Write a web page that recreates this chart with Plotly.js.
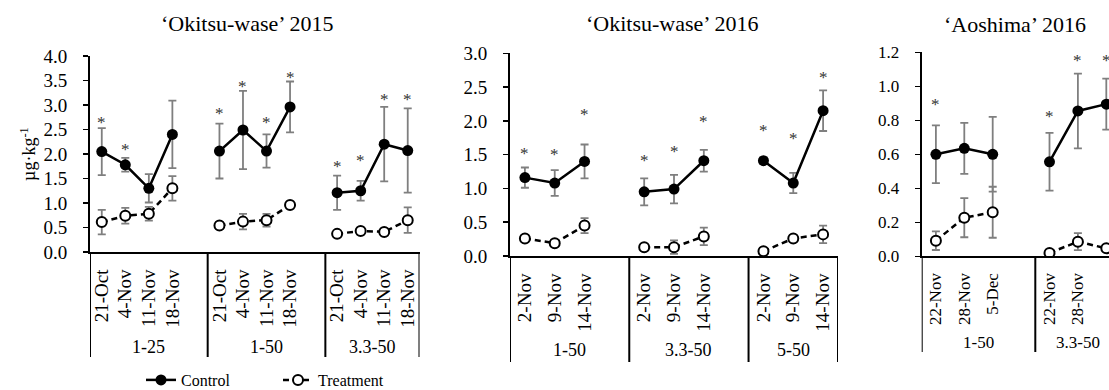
<!DOCTYPE html>
<html><head><meta charset="utf-8">
<script src="https://cdn.plot.ly/plotly-3.0.1.min.js"></script>
<style>html,body{margin:0;padding:0;overflow:hidden;background:#fff;width:1109px;height:390px}#chart{width:1109px;height:390px}</style>
</head><body><div id="chart"></div><script>
// ---------- DATA ----------
// Panel 1: 'Okitsu-wase' 2015
const p1Groups = ['1-25', '1-50', '3.3-50'];
const p1Dates = ['21-Oct', '4-Nov', '11-Nov', '18-Nov'];
const p1Control = [[2.05, 1.78, 1.30, 2.40], [2.06, 2.49, 2.06, 2.96], [1.21, 1.25, 2.20, 2.07]];
const p1ControlErr = [[0.48, 0.14, 0.29, 0.69], [0.56, 0.80, 0.34, 0.52], [0.35, 0.20, 0.76, 0.86]];
const p1Treat = [[0.61, 0.74, 0.78, 1.30], [0.54, 0.62, 0.65, 0.96], [0.37, 0.43, 0.41, 0.65]];
const p1TreatErr = [[0.25, 0.16, 0.14, 0.25], [0.03, 0.16, 0.13, 0.07], [0.03, 0.03, 0.03, 0.26]];
const p1Star = [[2.71, 2.15, null, null], [2.88, 3.44, 2.71, 3.63], [1.81, 1.93, 3.18, 3.18]];

// Panel 2: 'Okitsu-wase' 2016
const p2Groups = ['1-50', '3.3-50', '5-50'];
const p2Dates = ['2-Nov', '9-Nov', '14-Nov'];
const p2Control = [[1.16, 1.08, 1.40], [0.95, 0.99, 1.41], [1.41, 1.08, 2.15]];
const p2ControlErr = [[0.15, 0.19, 0.25], [0.20, 0.21, 0.16], [0.05, 0.15, 0.30]];
const p2Treat = [[0.26, 0.19, 0.45], [0.13, 0.13, 0.29], [0.07, 0.26, 0.32]];
const p2TreatErr = [[0.03, 0.03, 0.11], [0.02, 0.10, 0.13], [0.02, 0.03, 0.13]];
const p2Star = [[1.56, 1.54, 2.14], [1.46, 1.59, 2.03], [1.90, 1.79, 2.68]];

// Panel 3: 'Aoshima' 2016
const p3Groups = ['1-50', '3.3-50'];
const p3Dates = ['22-Nov', '28-Nov', '5-Dec'];
const p3Control = [[0.60, 0.635, 0.60], [0.556, 0.855, 0.895]];
const p3ControlErr = [[0.17, 0.15, 0.22], [0.17, 0.22, 0.15]];
const p3Treat = [[0.092, 0.227, 0.259], [0.02, 0.086, 0.047]];
const p3TreatErr = [[0.055, 0.115, 0.15], [0.005, 0.05, 0.01]];
const p3Star = [[0.91, null, null], [0.84, 1.17, 1.17]];

const seriesNames = ['Control', 'Treatment'];
const yTitle = 'µg·kg<sup>-1</sup>';

// ---------- LAYOUT ----------
const FONT = '"Liberation Serif", "Times New Roman", serif';
const W = 1109, H = 390;
const fx = p => p / W;
const fy = p => 1 - p / H;

const panels = [
  {title: '‘Okitsu-wase’ 2015', groups: p1Groups, dates: p1Dates, control: p1Control, controlErr: p1ControlErr,
   treat: p1Treat, treatErr: p1TreatErr, star: p1Star,
   box: {l: 90, r: 419.5, t: 56, b: 252}, ymax: 4, dtick: 0.5, divBottom: 357, groupY: 347, titleX: 247, titleY: 23, tickSize: 19, groupSize: 18},
  {title: '‘Okitsu-wase’ 2016', groups: p2Groups, dates: p2Dates, control: p2Control, controlErr: p2ControlErr,
   treat: p2Treat, treatErr: p2TreatErr, star: p2Star,
   box: {l: 510, r: 838, t: 53.3, b: 256}, ymax: 3, dtick: 0.5, divBottom: 362, groupY: 350, titleX: 672, titleY: 23, tickSize: 19, groupSize: 18},
  {title: '‘Aoshima’ 2016', groups: p3Groups, dates: p3Dates, control: p3Control, controlErr: p3ControlErr,
   treat: p3Treat, treatErr: p3TreatErr, star: p3Star,
   box: {l: 921.7, r: 1120.5, t: 52.3, b: 256.3}, ymax: 1.2, dtick: 0.2, divBottom: 352, groupY: 342, titleX: 1015, titleY: 25, tickSize: 17, groupSize: 17}
];

const traces = [];
const layout = {
  width: W, height: H,
  margin: {l: 0, r: 0, t: 0, b: 0, autoexpand: false},
  paper_bgcolor: '#fff', plot_bgcolor: '#fff',
  font: {family: FONT, color: '#000'},
  showlegend: true,
  legend: {orientation: 'h', x: fx(141), y: fy(380), xanchor: 'left', yanchor: 'middle',
           font: {family: FONT, size: 16, color: '#000'}, entrywidth: 92, entrywidthmode: 'pixels',
           bgcolor: 'rgba(0,0,0,0)'},
  shapes: [], annotations: []
};

panels.forEach((p, i) => {
  const sfx = i === 0 ? '' : String(i + 1);
  const xa = 'x' + sfx, ya = 'y' + sfx;
  const xs = [], cy = [], ce = [], ty = [], te = [], tickvals = [], ticktext = [];
  const dividers = [-0.5];
  const stars = [];
  let slot = 0;
  p.groups.forEach((g, gi) => {
    p.dates.forEach((d, di) => {
      xs.push(slot); cy.push(p.control[gi][di]); ce.push(p.controlErr[gi][di]);
      ty.push(p.treat[gi][di]); te.push(p.treatErr[gi][di]);
      tickvals.push(slot); ticktext.push(d);
      if (p.star[gi][di] != null) stars.push([slot, p.star[gi][di]]);
      slot++;
    });
    if (gi < p.groups.length - 1) {
      xs.push(slot); cy.push(null); ce.push(null); ty.push(null); te.push(null);
      slot++;
    }
    dividers.push(slot - 0.5);
  });

  // the right-most panel runs past the picture's edge: keep its scale, clip the view
  const visR = Math.min(p.box.r, W);
  const rangeR = -0.5 + slot * (visR - p.box.l) / (p.box.r - p.box.l);

  traces.push({
    x: xs, y: cy, xaxis: xa, yaxis: ya, type: 'scatter', mode: 'lines+markers',
    name: seriesNames[0], legendgroup: 'c', showlegend: i === 0,
    line: {color: '#000', width: 2.5}, marker: {color: '#000', size: 11},
    error_y: {type: 'data', array: ce, visible: true, color: '#7f7f7f', thickness: 1.8, width: 4},
    hoverinfo: 'skip'
  });
  traces.push({
    x: xs, y: ty, xaxis: xa, yaxis: ya, type: 'scatter', mode: 'lines+markers',
    name: seriesNames[1], legendgroup: 't', showlegend: i === 0,
    line: {color: '#000', width: 2.5, dash: '6px,4px'},
    marker: {color: '#fff', size: 10, line: {color: '#000', width: 2}},
    error_y: {type: 'data', array: te, visible: true, color: '#7f7f7f', thickness: 1.8, width: 4},
    hoverinfo: 'skip'
  });

  layout['xaxis' + sfx] = {
    domain: [fx(p.box.l), fx(visR)], range: [-0.5, rangeR], anchor: ya,
    tickmode: 'array', tickvals: tickvals, ticktext: ticktext, tickangle: -90, ticks: '',
    ticklabelstandoff: 8, automargin: false,
    showline: true, linecolor: '#000', linewidth: 2, showgrid: false, zeroline: false,
    tickfont: {family: FONT, size: p.tickSize, color: '#000'}, fixedrange: true
  };
  layout['yaxis' + sfx] = {
    domain: [fy(p.box.b), fy(p.box.t)], range: [0, p.ymax], anchor: xa,
    tick0: 0, dtick: p.dtick, tickformat: '.1f', ticks: 'outside', ticklen: 5, tickwidth: 1.5, tickcolor: '#000',
    ticklabelstandoff: 12, automargin: false,
    showline: true, linecolor: '#000', linewidth: 2, showgrid: false, zeroline: false,
    tickfont: {family: FONT, size: p.tickSize, color: '#000'}, fixedrange: true
  };
  if (i === 0) {
    layout.yaxis.title = {text: yTitle, font: {family: FONT, size: 18, color: '#000'}, standoff: 3};
  }

  dividers.forEach(d => {
    if (d > rangeR) return;
    layout.shapes.push({
      type: 'line', xref: xa, yref: 'paper', x0: d, x1: d, y0: fy(p.box.b), y1: fy(p.divBottom),
      line: {color: '#000', width: 2}
    });
  });
  for (let k = 0; k < dividers.length - 1; k++) {
    layout.annotations.push({
      xref: xa, yref: 'paper', x: (dividers[k] + dividers[k + 1]) / 2, y: fy(p.groupY),
      text: p.groups[k], showarrow: false, yanchor: 'middle',
      font: {family: FONT, size: p.groupSize, color: '#000'}
    });
  }
  stars.forEach(s => layout.annotations.push({
    xref: xa, yref: ya, x: s[0], y: s[1], text: '*', showarrow: false, yanchor: 'middle', yshift: -3,
    font: {family: FONT, size: 17, color: '#333'}
  }));
  layout.annotations.push({
    xref: 'paper', yref: 'paper', x: fx(p.titleX), y: fy(p.titleY), text: p.title, showarrow: false,
    xanchor: 'center', yanchor: 'middle', font: {family: FONT, size: 22, color: '#000'}
  });
});

Plotly.newPlot('chart', traces, layout, {staticPlot: true, displayModeBar: false});
</script></body></html>
